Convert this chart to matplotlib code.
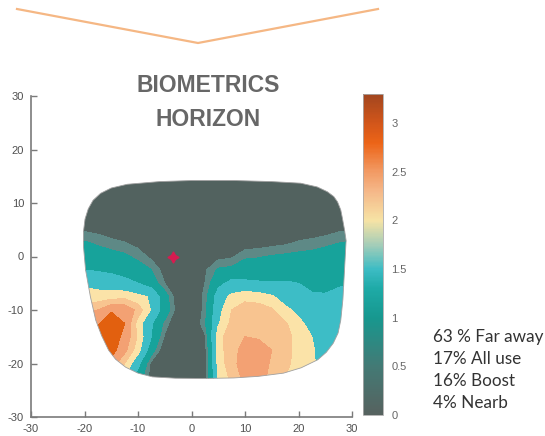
import numpy as np
import matplotlib.pyplot as plt
from matplotlib.colors import LinearSegmentedColormap, Normalize
from matplotlib.cm import ScalarMappable
from matplotlib.patches import Polygon
from matplotlib.lines import Line2D

plt.rcParams['axes.unicode_minus'] = False

# power map (mm grid, dioptres)
grid_x = [-22.5, -20, -17.5, -15, -12.5, -10, -7.5, -5, -2.5, 0, 2.5, 5,
          7.5, 10, 12.5, 15, 17.5, 20, 22.5, 25, 27.5, 30]
grid_y = [15, 12.5, 10, 7.5, 5, 2.5, 0, -2.5, -5, -7.5, -10, -12.5, -15,
          -17.5, -20, -22.5, -25]
power = [
    [0.1] * 22,
    [0.1] * 22,
    [0.15, 0.12, 0.1, 0.1, 0.1, 0.1, 0.1, 0.1, 0.1, 0.1, 0.1, 0.1, 0.1, 0.1, 0.1, 0.1, 0.1, 0.1, 0.1, 0.1, 0.12, 0.15],
    [0.3, 0.25, 0.2, 0.15, 0.12, 0.1, 0.1, 0.1, 0.1, 0.1, 0.1, 0.1, 0.1, 0.1, 0.1, 0.12, 0.15, 0.15, 0.18, 0.2, 0.25, 0.3],
    [0.5, 0.45, 0.4, 0.3, 0.25, 0.2, 0.15, 0.1, 0.1, 0.1, 0.1, 0.1, 0.1, 0.12, 0.15, 0.18, 0.2, 0.25, 0.3, 0.35, 0.45, 0.5],
    [0.85, 0.8, 0.7, 0.6, 0.52, 0.4, 0.25, 0.15, 0.1, 0.1, 0.1, 0.15, 0.2, 0.3, 0.35, 0.4, 0.45, 0.55, 0.6, 0.68, 0.75, 0.8],
    [1.15, 1.0, 0.95, 0.9, 0.82, 0.65, 0.42, 0.25, 0.1, 0.1, 0.15, 0.4, 0.45, 0.7, 0.72, 0.78, 0.82, 0.85, 0.88, 0.92, 0.95, 1.0],
    [1.3, 1.25, 1.2, 1.15, 1.05, 0.95, 0.75, 0.35, 0.1, 0.1, 0.45, 0.8, 0.85, 0.95, 1.0, 1.0, 1.0, 1.0, 1.0, 1.0, 1.05, 1.1],
    [1.75, 1.65, 1.6, 1.5, 1.4, 1.25, 1.0, 0.5, 0.15, 0.1, 0.5, 1.1, 1.4, 1.35, 1.3, 1.3, 1.3, 1.25, 1.15, 1.1, 1.2, 1.25],
    [2.0, 1.95, 1.9, 1.95, 2.0, 1.85, 1.7, 0.95, 0.25, 0.1, 0.6, 1.5, 1.85, 2.0, 1.95, 1.8, 1.55, 1.45, 1.3, 1.3, 1.35, 1.4],
    [2.2, 2.3, 2.4, 2.7, 2.65, 2.3, 1.7, 1.0, 0.3, 0.1, 0.6, 1.6, 2.1, 2.25, 2.25, 2.15, 1.85, 1.65, 1.45, 1.4, 1.4, 1.45],
    [2.5, 2.6, 2.7, 3.0, 2.75, 1.95, 1.3, 0.65, 0.15, 0.1, 0.7, 1.7, 2.2, 2.3, 2.35, 2.3, 2.15, 1.85, 1.6, 1.5, 1.5, 1.5],
    [2.8, 2.9, 3.0, 2.95, 2.65, 2.05, 1.25, 0.45, 0.1, 0.1, 0.45, 2.0, 2.25, 2.4, 2.35, 2.3, 2.2, 2.0, 1.75, 1.55, 1.5, 1.5],
    [3.0, 3.0, 3.0, 2.9, 2.5, 1.9, 0.95, 0.2, 0.1, 0.1, 0.35, 1.95, 2.3, 2.5, 2.6, 2.4, 2.2, 2.0, 1.8, 1.55, 1.5, 1.5],
    [2.9, 2.9, 2.8, 2.6, 2.1, 1.4, 0.4, 0.1, 0.1, 0.1, 0.3, 1.9, 2.3, 2.55, 2.6, 2.35, 2.2, 1.95, 1.8, 1.6, 1.5, 1.5],
    [2.8, 2.8, 2.6, 2.3, 1.8, 1.0, 0.35, 0.1, 0.1, 0.1, 0.3, 1.8, 2.2, 2.5, 2.55, 2.3, 2.1, 1.9, 1.8, 1.6, 1.5, 1.5],
    [2.8, 2.8, 2.6, 2.3, 1.8, 1.0, 0.35, 0.1, 0.1, 0.1, 0.3, 1.8, 2.2, 2.5, 2.55, 2.3, 2.1, 1.9, 1.8, 1.6, 1.5, 1.5],
]

# lens frame shape (mm)
lens_x = [-12, -6, 0, 8, 15, 20.4, 23.5, 25.4, 26.6, 27.3, 27.9, 28.2, 28.6, 28.9,
          28.6, 28.3, 27.9, 27.4, 26.5, 25.2, 23.6, 20.5, 17.2, 12.5, 7.9, 2, -3,
          -7.3, -10, -12.3, -14.2, -15.5, -16.8, -17.9, -18.9, -19.8, -20.2,
          -20.2, -19.9, -19.3, -18.4, -17.0, -15.0]
lens_y = [13.5, 14.0, 14.2, 14.2, 14.0, 13.7, 13.0, 12.1, 11.2, 10.2, 8.7, 7.2, 5, 3,
          -2.5, -8, -11.9, -14.3, -16.2, -17.9, -19.3, -20.8, -21.8, -22.4, -22.7, -22.8, -22.75,
          -22.5, -21.8, -20.7, -19.2, -17.5, -14.8, -11.9, -7.5, -2.5, 2,
          4.6, 7.0, 8.9, 10.5, 11.8, 12.8]

fit_x = [-3.5]
fit_y = [0]

band_levels = [-1, 0.5, 0.75, 1.25, 1.75, 2.1, 2.4, 2.75, 4]
band_colors = ['#52625f', '#5e8986', '#17a39b', '#3dbdc6', '#fbe3a8',
               '#f8c490', '#f3a173', '#e2600f']

bar_values = [0, 0.5, 1.0, 1.3, 1.5, 1.75, 2.0, 2.3, 2.5, 2.8, 3.0, 3.3]
bar_colors = ['#56625f', '#437a75', '#17988f', '#1eaaa7', '#3dbcc4', '#a5cdb8',
              '#f6e3a5', '#f5b889', '#f29b65', '#ec6417', '#d3561a', '#a2461f']

legend_lines = ['63 % Far away', '17% All use', '16% Boost', '4% Nearb']

narrow = ['Liberation Sans', 'DejaVu Sans']

fig = plt.figure(figsize=(5.45, 4.36), dpi=100)

# orange chevron on top
fig.add_artist(Line2D([17 / 545, 198 / 545, 378 / 545],
                      [1 - 9 / 436, 1 - 43 / 436, 1 - 9 / 436],
                      color='#f5b784', lw=1.6, transform=fig.transFigure))

ax = fig.add_axes([31 / 545, 19 / 436, 321 / 545, 321 / 436])
X, Y = np.meshgrid(grid_x, grid_y)
cs = ax.contourf(X, Y, np.array(power), levels=band_levels, colors=band_colors)
lens = Polygon(np.column_stack([lens_x, lens_y]), closed=True, facecolor='none',
               edgecolor='#a0a0a0', lw=0.6, transform=ax.transData)
ax.add_patch(lens)
cs.set_clip_path(lens)
ax.plot(fit_x, fit_y, linestyle='none', marker=(4, 1, 0), ms=8, color='#d81b50')

ax.set_xlim(-30, 30)
ax.set_ylim(-30, 30)
ax.set_xticks(range(-30, 31, 10))
ax.set_yticks(range(-30, 31, 10))
for s in ['top', 'right']:
    ax.spines[s].set_visible(False)
for s in ['left', 'bottom']:
    ax.spines[s].set_color('#7a7a7a')
    ax.spines[s].set_linewidth(1.2)
ax.tick_params(direction='in', length=4, width=1, color='#7a7a7a',
               labelcolor='#505050', labelsize=8, pad=5)
for lab in ax.get_xticklabels() + ax.get_yticklabels():
    lab.set_family(narrow)

fig.text(208 / 545, 1 - 86 / 436, 'BIOMETRICS', ha='center', va='center',
         fontsize=16.5, fontweight='bold', color='#676767', family=narrow)
fig.text(208 / 545, 1 - 120 / 436, 'HORIZON', ha='center', va='center',
         fontsize=16.5, fontweight='bold', color='#676767', family=narrow)

cax = fig.add_axes([363 / 545, 21 / 436, 20 / 545, 321 / 436])
bar_cmap = LinearSegmentedColormap.from_list(
    'lens', list(zip(np.array(bar_values) / 3.3, bar_colors)))
cb = fig.colorbar(ScalarMappable(norm=Normalize(0, 3.3), cmap=bar_cmap), cax=cax,
                  ticks=[0, 0.5, 1, 1.5, 2, 2.5, 3])
cb.ax.set_yticklabels(['0', '0.5', '1', '1.5', '2', '2.5', '3'])
cb.outline.set_edgecolor('#aaaaaa')
cb.outline.set_linewidth(0.6)
cb.ax.tick_params(length=0, labelsize=8, labelcolor='#666666', pad=6)
for lab in cb.ax.get_yticklabels():
    lab.set_family(narrow)

for i, line in enumerate(legend_lines):
    fig.text(433 / 545, 1 - (337 + i * 22) / 436, line, ha='left', va='center',
             fontsize=12.3, color='#333333', family=['Lato', 'DejaVu Sans'])

fig.savefig('out.png', dpi=100)
